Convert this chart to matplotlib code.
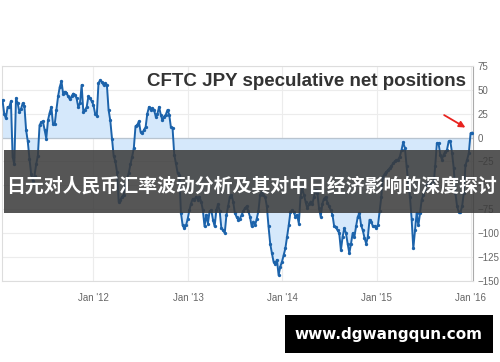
import numpy as np
import pandas as pd
import matplotlib
matplotlib.use("Agg")
import matplotlib.pyplot as plt
from matplotlib.patches import Rectangle

# CFTC JPY speculative net positions (thousand contracts), roughly weekly
net_positions = [
    39, 25, 20, 32, 32, 38, -20, -28, 41, 36, 27, 30, 36, 33, 8, -4, -22, -38, -45, -40,
    -28, -19, 13, 16, 17, 8, -1, 18, 26, 32, 14, 14, 29, 43, 53, 59, 46, 48, 47, 43,
    40, 43, 46, 45, 41, 32, 36, 55, 27, 29, 32, 43, 41, 38, 34, 25, 23, 57, 60, 58,
    55, 57, 55, 29, 18, -1, -19,
    -25, -36, -67, -65, -62, -60, -50, -43, -37, -28, -20, -11,
    12, 13, 17, 6, 4.5, 8, 11, 25, 32, 29, 31, 29, 22, 25, 32, 24, 18, 22, 24, 29,
    24, 11, 10,
    -18, -27, -37, -39, -79, -92, -95, -92, -85, -76, -69, -64, -65, -62, -65, -62, -67, -76,
    -93, -81, -90, -77, -76, -86, -93, -76, -70, -77, -95, -97, -100, -81, -72, -62, -60, -67,
    -79, -83, -86, -85, -81, -77, -74, -72, -77, -83, -93, -88, -92, -85, -77, -60, -57, -60,
    -62, -72, -93, -111, -121, -130, -132, -128, -144, -135, -130, -123, -116, -104, -92, -78,
    -76, -78, -83, -81, -90, -62, -53, -60, -67, -74, -70, -67, -70, -62, -55, -58, -74, -83,
    -69, -64,
    -62, -68, -72, -76, -81, -93, -94, -97, -100, -118, -104, -95, -100, -111, -121, -111,
    -100, -104, -93, -83, -79, -92, -97, -105, -111, -104, -86, -88, -93, -93, -95, -92, -77, -62,
    -41, -38, -36, -34, -32, -30, -27, -25, -24, -23, -20, -13, -5, -11, -30, -48, -62, -85,
    -116, -97, -79, -92, -79, -65, -60, -55, -50, -48, -48, -50, -51, -30, -6, -6, -18, -23,
    -18, -15, -13, -4, -4, -16, -32, -58, -72, -78, -78, -72, -58, -29, -23, -16, 4.5, 5,
]
start_date = "2011-01-14"
end_date = "2016-01-06"
year_ticks = ["2012-01-01", "2013-01-01", "2014-01-01", "2015-01-01", "2016-01-01"]
year_labels = ["Jan '12", "Jan '13", "Jan '14", "Jan '15", "Jan '16"]
y_ticks = [75, 50, 25, 0, -25, -50, -75, -100, -125, -150]

title = "CFTC JPY speculative net positions"
banner_text = "日元对人民币汇率波动分析及其对中日经济影响的深度探讨"
site_text = "www.dgwangqun.com"

LINE = "#1c63ab"
FILL = "#d5e8fb"
GRID = "#ececec"
LABEL = "#666666"

dates = pd.date_range(start_date, end_date, periods=len(net_positions))
values = np.array(net_positions, dtype=float)

fig = plt.figure(figsize=(5, 3.62), dpi=100)
ax = fig.add_axes([0.004, 0.224, 0.942, 0.594])

ax.fill_between(dates, values, 0, color=FILL, linewidth=0, zorder=1)
ax.axhline(0, color="#b8c4d0", linewidth=0.9, zorder=2)
ax.plot(dates, values, color=LINE, linewidth=1.4, marker="o", markersize=2.4,
        markeredgewidth=0, zorder=3)

ax.set_ylim(-150, 75)
ax.set_xlim(pd.Timestamp("2011-01-12"), pd.Timestamp("2016-01-09"))
ax.set_yticks(y_ticks)
ax.set_xticks([pd.Timestamp(d) for d in year_ticks])
ax.set_xticklabels(year_labels)
ax.yaxis.tick_right()
ax.tick_params(axis="both", length=0, labelsize=7, colors=LABEL)
ax.tick_params(axis="x", pad=9)
ax.tick_params(axis="y", pad=3)
for lab in ax.get_yticklabels() + ax.get_xticklabels():
    lab.set_family("Liberation Sans")
ax.grid(True, color=GRID, linewidth=0.8, zorder=0)
ax.set_axisbelow(True)
for side in ["top", "left", "bottom"]:
    ax.spines[side].set_color("#dddddd")
ax.spines["right"].set_color("#aaaaaa")

ax.text(0.986, 0.965, title, transform=ax.transAxes, ha="right", va="top",
        fontsize=13.5, fontweight="bold", color="#333333", family="Liberation Sans")

ax.annotate("", xy=(pd.Timestamp("2015-12-20"), 9), xytext=(pd.Timestamp("2015-09-10"), 25),
            arrowprops=dict(arrowstyle="-|>", color="#e8231f", lw=1.3,
                            mutation_scale=9), zorder=5)

# dark banner with headline across the middle
fig.patches.append(Rectangle((4 / 500, 1 - 213 / 362), 496 / 500, 63 / 362,
                             transform=fig.transFigure, facecolor="#3a3a3a",
                             alpha=0.86, edgecolor="none", zorder=10))
fig.text(0.502, 1 - 186 / 362, banner_text, ha="center", va="center", color="white",
         fontsize=13.6, fontweight="bold", family=["Noto Sans CJK SC", "DejaVu Sans"],
         zorder=11)

# site box bottom right
fig.patches.append(Rectangle((285 / 500, 1 - 353 / 362), 208 / 500, 38 / 362,
                             transform=fig.transFigure, facecolor="black",
                             edgecolor="none", zorder=10))
fig.text(388 / 500, 1 - 334 / 362, site_text, ha="center", va="center", color="white",
         fontsize=11, fontweight="bold", family="DejaVu Sans", zorder=11)

fig.savefig("out.png", dpi=100, facecolor="white")
